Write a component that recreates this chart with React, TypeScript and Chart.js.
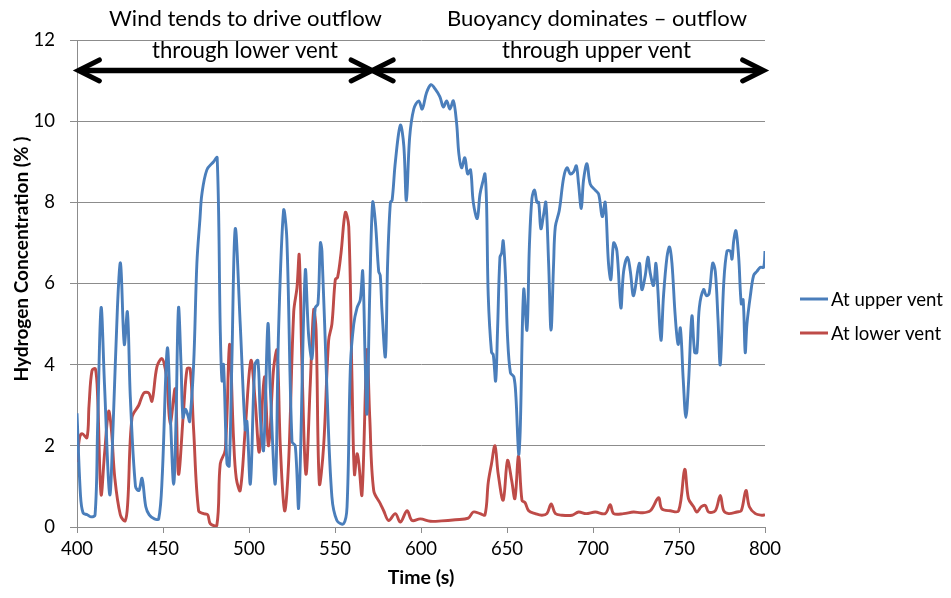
import React, { useEffect, useRef } from "react";
import { Chart, registerables } from "chart.js";
Chart.register(...registerables);

// ---- Data ----
const upperTime = [400, 402, 403.5, 406, 408, 410.5, 412, 414, 416, 419, 421, 423.5, 425.3, 427.5, 429.3, 431, 434, 436, 437.8, 440, 442, 445, 447.5, 449.5, 452.5, 454.5, 456.2, 457.5, 459, 460.5, 461.6, 463, 464.5, 465.5, 467.8, 469.7, 471.5, 472.6, 475.5, 479.4, 481.5, 483.3, 484.3, 485.2, 487.2, 488.5, 490, 492, 494.9, 497.8, 498.8, 500.8, 503.4, 505.2, 506.6, 508.5, 511, 512.4, 515.3, 517.2, 520.1, 522, 525, 526.9, 528.9, 532.7, 534.7, 536.6, 538.5, 540.1, 541.5, 542.4, 545.3, 548.2, 551.1, 555, 557, 559, 560.9, 562.8, 564.7, 566.1, 567.6, 568.6, 570.2, 571.9, 573.5, 575.4, 576.3, 577.3, 579.3, 580.6, 582.2, 583.2, 585.1, 588, 590, 591.5, 593.4, 595.8, 598.7, 600.7, 603.2, 605.8, 608.1, 611, 613, 614.9, 616.8, 618.8, 620.7, 622, 623.6, 625.5, 627.1, 628.8, 630.4, 632.7, 634.3, 636.2, 637.2, 638.1, 639.1, 641, 642, 643.4, 644.5, 645.9, 646.9, 647.8, 649.2, 650.3, 652, 654, 655.2, 656.8, 657.7, 659.7, 661.6, 663, 664.5, 666, 667.4, 668.4, 669.7, 671.3, 672.6, 674.2, 675.6, 677.1, 678.1, 680.4, 682.9, 684.9, 686.8, 688.7, 690.3, 691.6, 693.2, 694.5, 696.5, 698.4, 701.3, 703.3, 705.4, 707.1, 709, 710.4, 712, 713.9, 716.2, 717.8, 720.1, 721.7, 723.6, 726.9, 728.4, 730.4, 731.9, 733.3, 735.2, 736.6, 737.7, 739.5, 741, 743, 744.5, 745.9, 747.8, 749.5, 750.8, 752.5, 754, 755.6, 757.5, 759.1, 760.4, 761.8, 764.3, 765.9, 767.5, 769.6, 771.1, 772.7, 774, 776, 777.9, 779.8, 780.8, 781.8, 783.1, 784.7, 786.2, 787.3, 788.5, 789.5, 791.5, 793.4, 795.3, 797.3, 799.2, 800];
const upperConc = [2.8, 0.8, 0.35, 0.3, 0.25, 0.3, 2.5, 5.4, 3.5, 0.8, 2.5, 5.4, 6.5, 4.5, 5.3, 3.2, 1.0, 0.9, 1.2, 0.5, 0.3, 0.2, 0.2, 1.2, 4.4, 2.5, 1.05, 2.5, 5.4, 4.0, 2.7, 2.9, 2.75, 2.6, 4.0, 6.5, 7.6, 8.2, 8.8, 9.0, 9.1, 4.85, 3.6, 4.0, 1.56, 1.5, 4.0, 7.35, 5.0, 2.4, 2.6, 1.07, 4.0, 4.1, 2.7, 1.9, 5.0, 3.4, 1.07, 4.85, 7.8, 7.1, 2.1, 2.0, 0.5, 6.3, 4.7, 4.15, 5.4, 5.5, 7.0, 6.8, 3.4, 0.74, 0.16, 0.08, 0.5, 4.0, 5.0, 5.4, 5.6, 6.3, 4.0, 2.8, 5.75, 8.0, 7.5, 6.3, 6.2, 5.35, 4.2, 6.5, 8.0, 8.05, 9.0, 9.9, 9.4, 8.05, 9.6, 10.3, 10.5, 10.3, 10.7, 10.9, 10.8, 10.6, 10.35, 10.5, 10.3, 10.5, 9.95, 9.2, 8.85, 9.1, 8.7, 8.8, 8.0, 7.6, 8.2, 8.55, 8.7, 8.0, 5.7, 4.3, 4.25, 3.6, 4.85, 6.65, 6.75, 7.05, 6.1, 4.7, 3.8, 3.7, 3.2, 1.8, 2.4, 5.85, 4.85, 6.9, 8.1, 8.3, 8.0, 8.0, 7.35, 7.7, 8.0, 6.5, 4.85, 6.5, 7.4, 7.8, 8.6, 8.85, 8.7, 8.75, 8.9, 8.45, 7.85, 8.55, 8.95, 8.45, 8.3, 8.2, 7.65, 8.0, 6.5, 6.1, 7.0, 6.8, 5.4, 6.3, 6.65, 6.3, 5.7, 6.5, 5.85, 6.2, 6.65, 6.25, 5.95, 6.5, 5.85, 4.6, 5.7, 6.65, 6.9, 6.5, 5.2, 4.5, 4.9, 3.6, 2.7, 3.6, 5.2, 4.3, 4.3, 5.4, 5.85, 5.7, 5.75, 6.5, 6.3, 5.1, 4.0, 6.0, 6.8, 6.8, 6.6, 7.05, 7.3, 6.65, 5.5, 5.6, 4.3, 5.0, 5.7, 6.2, 6.3, 6.4, 6.4, 6.8];

const lowerTime = [400, 401.5, 403, 405.8, 407, 408.7, 410.7, 412, 414, 416, 418.4, 420, 422, 425.2, 428, 429.5, 432, 435.9, 438.8, 441.7, 443.6, 446.5, 449.4, 451.3, 452.5, 454.2, 457.1, 459, 462, 464, 465.8, 467.8, 470.7, 473.6, 476, 477.5, 481.3, 483.3, 486.2, 488.7, 491, 492.6, 494.9, 497.8, 501.1, 503.6, 506, 508.9, 511.4, 514.3, 516.3, 518.2, 520.7, 523, 526, 527.9, 529.2, 530.8, 533.1, 535.6, 537.6, 539, 540.9, 543.4, 546.3, 548.2, 550.2, 551.5, 553.5, 556, 558, 559.9, 561.3, 562.8, 563.8, 565.7, 568.6, 570.2, 572.5, 576.4, 578.3, 581.2, 585.1, 588, 591.9, 594.8, 599.6, 605.4, 612, 620, 627.5, 630.4, 634.3, 637.2, 639.1, 641, 643, 644.9, 647.8, 650.3, 652.7, 654.6, 656.7, 658.7, 660.5, 662.6, 666.4, 670.3, 673.2, 675.7, 678.1, 682, 687.8, 691.6, 696, 701.3, 707.1, 710, 712, 717.8, 723.6, 728, 733.3, 738.1, 740, 744.9, 749.8, 753.3, 755.5, 758.5, 760.4, 763, 765.3, 767.2, 771.1, 774, 776, 778.9, 783.7, 786.2, 788.9, 790.9, 794.4, 798.2, 800];
const lowerConc = [1.6, 2.2, 2.3, 2.2, 3.0, 3.85, 3.9, 3.2, 0.8, 1.8, 2.85, 2.4, 1.2, 0.3, 0.15, 0.6, 2.7, 3.0, 3.3, 3.3, 3.1, 3.95, 4.15, 3.9, 3.5, 2.55, 3.4, 1.3, 2.9, 3.9, 3.9, 2.4, 0.4, 0.33, 0.3, 0.08, 0.04, 1.56, 1.9, 4.5, 2.2, 1.2, 0.9, 2.4, 4.1, 3.1, 1.85, 3.7, 2.0, 3.9, 4.35, 2.0, 0.4, 1.56, 5.3, 5.9, 6.7, 4.0, 1.3, 3.5, 5.35, 4.85, 1.07, 2.0, 4.6, 5.0, 6.1, 6.15, 6.75, 7.75, 7.4, 3.6, 1.3, 1.8, 1.6, 0.8, 4.35, 2.7, 0.9, 0.57, 0.4, 0.16, 0.33, 0.12, 0.4, 0.16, 0.2, 0.14, 0.15, 0.18, 0.22, 0.37, 0.33, 0.3, 1.1, 1.56, 2.0, 1.3, 0.66, 1.64, 1.15, 0.7, 1.75, 0.66, 0.6, 0.4, 0.33, 0.29, 0.33, 0.57, 0.33, 0.29, 0.29, 0.37, 0.33, 0.37, 0.33, 0.55, 0.33, 0.33, 0.37, 0.35, 0.4, 0.72, 0.45, 0.4, 0.4, 1.42, 0.7, 0.5, 0.37, 0.5, 0.53, 0.37, 0.4, 0.78, 0.4, 0.33, 0.37, 0.4, 0.9, 0.5, 0.33, 0.29, 0.3];

const seriesNames = ["At upper vent", "At lower vent"];
const seriesColors = ["#4a7ebb", "#be4b48"];
const xTicks = [400, 450, 500, 550, 600, 650, 700, 750, 800];
const yTicks = [0, 2, 4, 6, 8, 10, 12];
const xTitle = "Time (s)";
const yTitle = "Hydrogen Concentration (% )";
const leftNote = ["Wind tends to drive outflow", "through lower vent"];
const rightNote = ["Buoyancy dominates \u2013 outflow", "through upper vent"];
const arrowStart = 400.8;
const arrowMid = 571.6;
const arrowEnd = 799.2;
const arrowLevel = 11.25;

const FONT = "Lato, 'Open Sans', sans-serif";
const GRID = "#8c8c8c";

export default function App() {
  const ref = useRef<HTMLCanvasElement>(null);
  useEffect(() => {
    document.body.style.margin = "0";
    const canvas = ref.current!;

    const annot = {
      id: "annot",
      afterDraw(chart: any) {
        const ctx = chart.ctx as CanvasRenderingContext2D;
        const xs = chart.scales.x;
        const ys = chart.scales.y;
        // set a font so that the text is about `w` pixels wide
        const fit = (text: string, w: number, weight: string) => {
          ctx.font = `${weight} 20px ${FONT}`;
          const m = ctx.measureText(text).width;
          const size = (20 * w) / m;
          ctx.font = `${weight} ${size.toFixed(2)}px ${FONT}`;
        };
        ctx.save();
        ctx.fillStyle = "#000";
        ctx.strokeStyle = "#000";
        ctx.textAlign = "center";
        ctx.textBaseline = "middle";
        fit(leftNote[0], 273, "normal");
        ctx.fillText(leftNote[0], 245.5, 19);
        fit(leftNote[1], 186, "normal");
        ctx.fillText(leftNote[1], 245, 51);
        fit(rightNote[0], 300, "normal");
        ctx.fillText(rightNote[0], 597, 19);
        fit(rightNote[1], 189, "normal");
        ctx.fillText(rightNote[1], 596.5, 51);

        // arrows
        const ay = ys.getPixelForValue(arrowLevel);
        const x0 = xs.getPixelForValue(arrowStart);
        const xm = xs.getPixelForValue(arrowMid);
        const x1 = xs.getPixelForValue(arrowEnd);
        ctx.lineWidth = 5.5;
        ctx.lineCap = "butt";
        ctx.beginPath();
        ctx.moveTo(x0 + 3, ay);
        ctx.lineTo(xm - 3, ay);
        ctx.moveTo(xm + 3, ay);
        ctx.lineTo(x1 - 3, ay);
        ctx.stroke();
        const head = (x: number, dir: number) => {
          ctx.beginPath();
          ctx.moveTo(x - dir * 21, ay - 10.5);
          ctx.lineTo(x, ay);
          ctx.lineTo(x - dir * 21, ay + 10.5);
          ctx.stroke();
        };
        ctx.lineWidth = 5;
        ctx.lineCap = "round";
        ctx.lineJoin = "miter";
        head(x0, -1);
        head(xm, 1);
        head(xm, -1);
        head(x1, 1);

        // y title
        ctx.save();
        ctx.translate(22, 259);
        ctx.rotate(-Math.PI / 2);
        fit(yTitle, 245, "bold");
        ctx.fillText(yTitle, 0, 0);
        ctx.restore();

        // legend
        const ly = [299, 333];
        ctx.textAlign = "left";
        ctx.lineCap = "butt";
        ctx.lineWidth = 3;
        for (let i = 0; i < 2; i++) {
          ctx.strokeStyle = seriesColors[i];
          ctx.beginPath();
          ctx.moveTo(800, ly[i]);
          ctx.lineTo(828, ly[i]);
          ctx.stroke();
          ctx.fillStyle = "#000";
          fit(seriesNames[0], 112, "normal");
          ctx.fillText(seriesNames[i], 831, ly[i] + 1);
        }
        ctx.restore();
      },
    };

    const chart = new Chart(canvas, {
      type: "line",
      data: {
        datasets: [
          {
            label: seriesNames[0],
            data: upperTime.map((t, i) => ({ x: t, y: upperConc[i] })),
            borderColor: seriesColors[0],
            backgroundColor: seriesColors[0],
            borderWidth: 2.9,
            pointRadius: 0,
            tension: 0.35,
          },
          {
            label: seriesNames[1],
            data: lowerTime.map((t, i) => ({ x: t, y: lowerConc[i] })),
            borderColor: seriesColors[1],
            backgroundColor: seriesColors[1],
            borderWidth: 2.9,
            pointRadius: 0,
            tension: 0.35,
          },
        ],
      },
      options: {
        animation: false,
        responsive: false,
        devicePixelRatio: 1,
        layout: { padding: { top: 40, right: 186, left: 0, bottom: 0 } },
        plugins: { legend: { display: false }, tooltip: { enabled: false } },
        scales: {
          x: {
            type: "linear",
            min: 400,
            max: 800,
            afterBuildTicks: (s: any) => {
              s.ticks = xTicks.map((v) => ({ value: v }));
            },
            ticks: { font: { family: FONT, size: 18.5 }, color: "#000", padding: 5, maxRotation: 0 },
            grid: { drawOnChartArea: false, drawTicks: true, tickLength: 6, color: GRID },
            border: { color: GRID },
            title: {
              display: true,
              text: xTitle,
              font: { family: FONT, size: 19.5, weight: "bold" },
              color: "#000",
              padding: { top: 0, bottom: 9 },
            },
            afterFit: (s: any) => {
              s.height = 71;
            },
          },
          y: {
            type: "linear",
            min: 0,
            max: 12,
            afterBuildTicks: (s: any) => {
              s.ticks = yTicks.map((v) => ({ value: v }));
            },
            ticks: { font: { family: FONT, size: 18.5 }, color: "#000", padding: 15 },
            grid: { color: GRID, tickLength: 7 },
            border: { color: GRID },
            afterFit: (s: any) => {
              s.width = 77;
            },
          },
        },
      },
      plugins: [annot],
    });
    return () => chart.destroy();
  }, []);
  return (
    <div style={{ position: "absolute", left: 0, top: 0, width: 951, height: 598 }}>
      <canvas ref={ref} width={951} height={598} style={{ width: 951, height: 598, display: "block" }} />
    </div>
  );
}
